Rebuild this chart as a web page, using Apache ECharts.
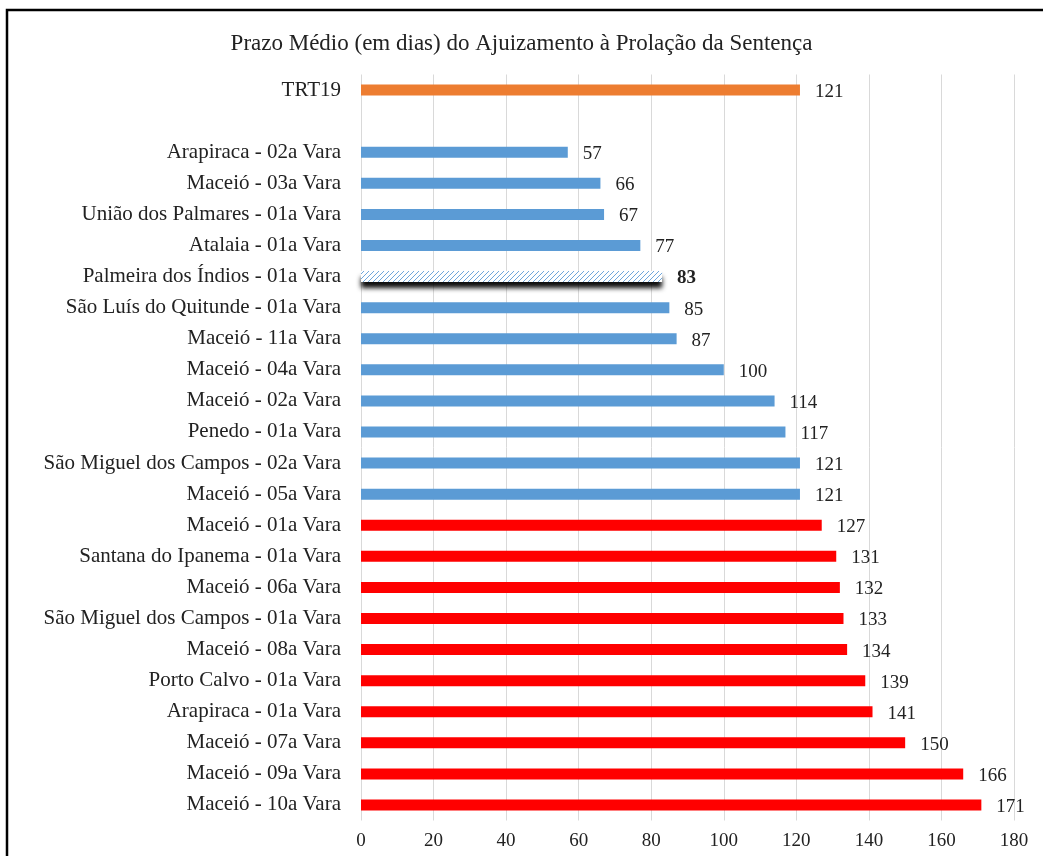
<!DOCTYPE html>
<html>
<head>
<meta charset="utf-8">
<script src="https://cdn.jsdelivr.net/npm/echarts@6/dist/echarts.min.js"></script>
<style>
html, body { margin: 0; padding: 0; background: #fff; }
#chart { width: 1043px; height: 856px; }
</style>
</head>
<body>
<div id="chart"></div>
<script>
// categorias de cima para baixo (linha vazia separa o TRT19)
var categories = [
    'TRT19', '',
    'Arapiraca - 02a Vara', 'Maceió - 03a Vara', 'União dos Palmares - 01a Vara',
    'Atalaia - 01a Vara', 'Palmeira dos Índios - 01a Vara', 'São Luís do Quitunde - 01a Vara',
    'Maceió - 11a Vara', 'Maceió - 04a Vara', 'Maceió - 02a Vara', 'Penedo - 01a Vara',
    'São Miguel dos Campos - 02a Vara', 'Maceió - 05a Vara', 'Maceió - 01a Vara',
    'Santana do Ipanema - 01a Vara', 'Maceió - 06a Vara', 'São Miguel dos Campos - 01a Vara',
    'Maceió - 08a Vara', 'Porto Calvo - 01a Vara', 'Arapiraca - 01a Vara',
    'Maceió - 07a Vara', 'Maceió - 09a Vara', 'Maceió - 10a Vara'
];
var values = [
    121, null,
    57, 66, 67, 77, 83, 85, 87, 100, 114, 117, 121, 121,
    127, 131, 132, 133, 134, 139, 141, 150, 166, 171
];
// grupo de cor de cada linha: t = tribunal, b = abaixo da média, h = hachurado, r = acima da média
var groups = [
    't', '',
    'b', 'b', 'b', 'b', 'h', 'b', 'b', 'b', 'b', 'b', 'b', 'b',
    'r', 'r', 'r', 'r', 'r', 'r', 'r', 'r', 'r', 'r'
];
var xTicks = { min: 0, max: 180, interval: 20 };

var FONT = '"Liberation Serif", "Times New Roman", serif';

function hatchPattern() {
    var c = document.createElement('canvas');
    c.width = 5; c.height = 5;
    var ctx = c.getContext('2d');
    ctx.fillStyle = '#ffffff';
    ctx.fillRect(0, 0, 5, 5);
    ctx.strokeStyle = '#6fa6db';
    ctx.lineWidth = 1;
    ctx.beginPath();
    ctx.moveTo(0, 5); ctx.lineTo(5, 0);
    ctx.moveTo(-2.5, 2.5); ctx.lineTo(2.5, -2.5);
    ctx.moveTo(2.5, 7.5); ctx.lineTo(7.5, 2.5);
    ctx.stroke();
    return c;
}

var colors = { t: '#ed7d31', b: '#5b9bd5', r: '#ff0000' };

var barData = values.map(function(v, i) {
    if (v == null) return '-';
    var g = groups[i];
    if (g === 'h') {
        return {
            value: v,
            itemStyle: {
                color: { image: hatchPattern(), repeat: 'repeat' },
                shadowColor: 'rgba(0,0,0,0.95)',
                shadowBlur: 5,
                shadowOffsetY: 6
            },
            label: { fontWeight: 'bold' }
        };
    }
    return { value: v, itemStyle: { color: colors[g] } };
});

var chart = echarts.init(document.getElementById('chart'));
chart.setOption({
    backgroundColor: '#fff',
    animation: false,
    title: {
        text: 'Prazo Médio (em dias) do Ajuizamento à Prolação da Sentença',
        left: 'center',
        top: 27,
        textStyle: { fontFamily: FONT, fontSize: 23, fontWeight: 'normal', color: '#222' }
    },
    graphic: [{
        type: 'rect',
        shape: { x: 7, y: 10, width: 1100, height: 900 },
        style: { fill: 'none', stroke: '#000', lineWidth: 2.5 },
        silent: true
    }],
    grid: { left: 361, right: 29, top: 74.5, bottom: 35.5 },
    xAxis: {
        type: 'value',
        min: xTicks.min,
        max: xTicks.max,
        interval: xTicks.interval,
        axisLine: { show: false },
        axisTick: { show: false },
        splitLine: { lineStyle: { color: '#d9d9d9', width: 1 } },
        axisLabel: { fontFamily: FONT, fontSize: 19, color: '#222', margin: 11 }
    },
    yAxis: {
        type: 'category',
        inverse: true,
        data: categories,
        axisLine: { show: false },
        axisTick: { show: false },
        axisLabel: { fontFamily: FONT, fontSize: 21, color: '#222', margin: 20 }
    },
    series: [{
        type: 'bar',
        data: barData,
        barWidth: 11,
        label: {
            show: true,
            position: 'right',
            distance: 15,
            fontFamily: FONT,
            fontSize: 19,
            color: '#222',
            offset: [0, 2]
        }
    }]
});
</script>
</body>
</html>
